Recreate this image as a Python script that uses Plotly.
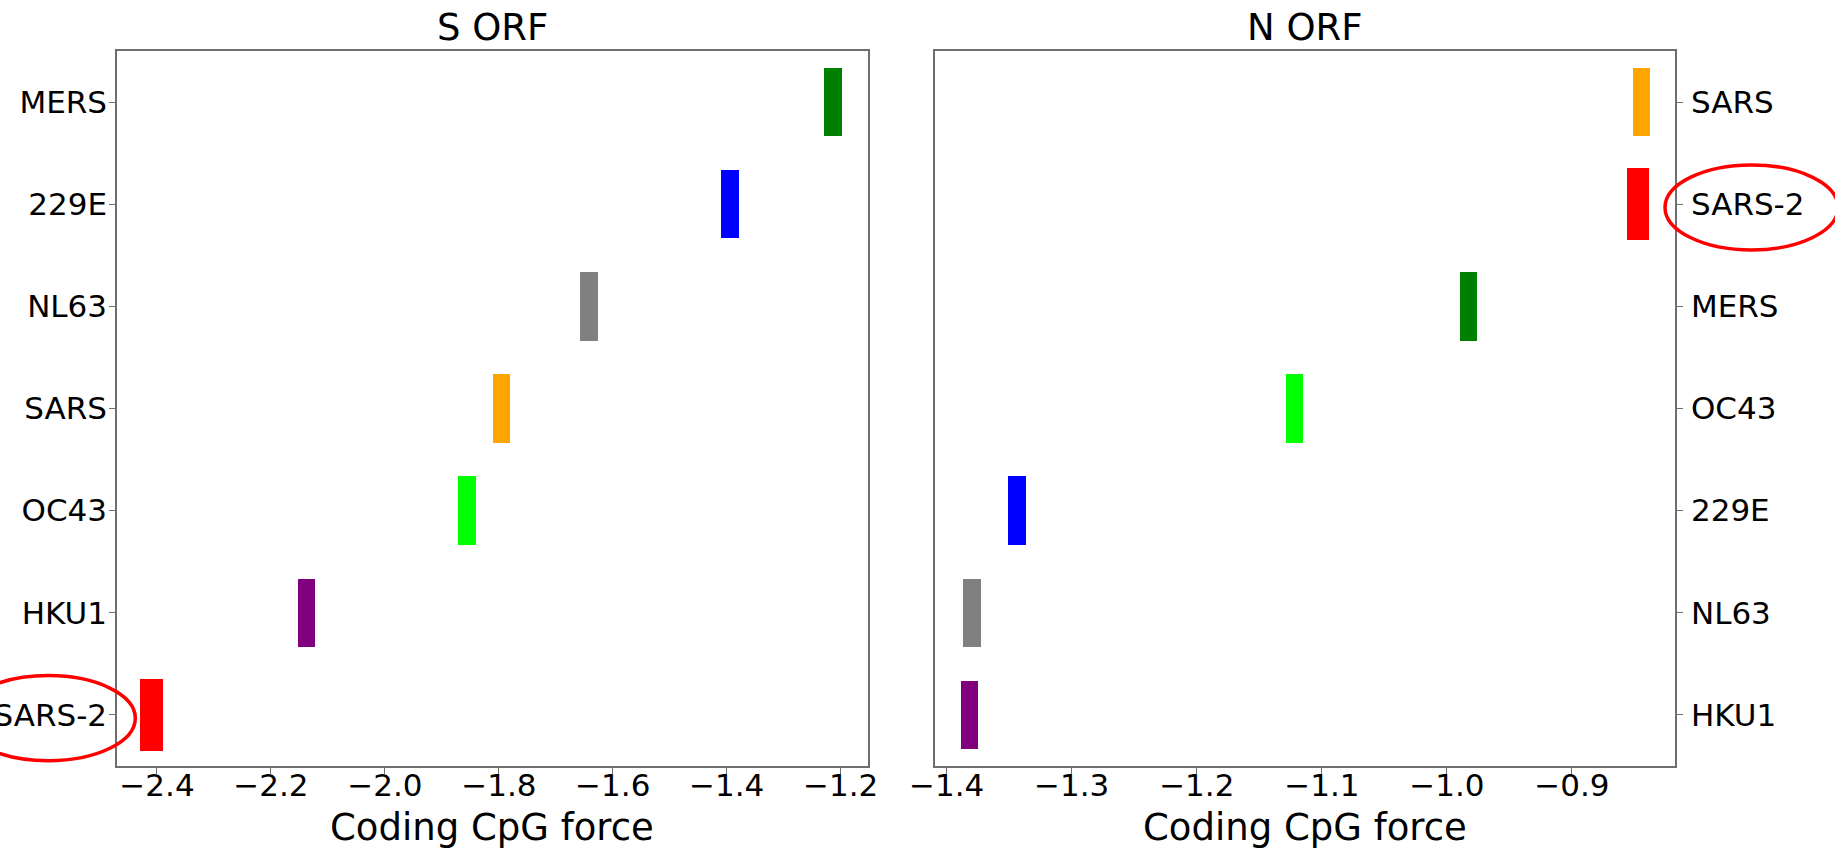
import plotly.graph_objects as go
from plotly.subplots import make_subplots

# ---- data ----
s_viruses = ["MERS", "229E", "NL63", "SARS", "OC43", "HKU1", "SARS-2"]
s_low = [-1.229, -1.410, -1.657, -1.810, -1.871, -2.153, -2.429]
s_high = [-1.197, -1.379, -1.626, -1.780, -1.840, -2.122, -2.390]

n_viruses = ["SARS", "SARS-2", "MERS", "OC43", "229E", "NL63", "HKU1"]
n_low = [-0.8515, -0.856, -0.990, -1.129, -1.351, -1.387, -1.389]
n_high = [-0.8376, -0.839, -0.976, -1.115, -1.337, -1.373, -1.375]

virus_colors = {
    "MERS": "#008000", "229E": "#0000ff", "NL63": "#808080", "SARS": "#ffa500",
    "OC43": "#00ff00", "HKU1": "#800080", "SARS-2": "#ff0000",
}
highlight = "SARS-2"

s_ticks = [-2.4, -2.2, -2.0, -1.8, -1.6, -1.4, -1.2]
n_ticks = [-1.4, -1.3, -1.2, -1.1, -1.0, -0.9]

panel_titles = ["S ORF", "N ORF"]
x_title = "Coding CpG force"

FONT = "DejaVu Sans"
W, H = 1835, 852

fig = make_subplots(rows=1, cols=2)

def add_panel(cats, lo, hi, col):
    widths = [0.71 if c == highlight else 0.67 for c in cats]
    fig.add_trace(go.Bar(
        y=cats, base=lo, x=[h - l for h, l in zip(hi, lo)], orientation="h",
        width=widths,
        marker=dict(color=[virus_colors[c] for c in cats], line=dict(width=0)),
        showlegend=False, hoverinfo="skip",
    ), row=1, col=col)

add_panel(s_viruses, s_low, s_high, 1)
add_panel(n_viruses, n_low, n_high, 2)

axis_common = dict(
    showline=True, linecolor="#6e6e6e", linewidth=1.5, mirror=True,
    ticks="outside", ticklen=6, tickcolor="#6e6e6e", tickwidth=1,
    showgrid=False, zeroline=False, automargin=False,
    tickfont=dict(family=FONT, size=31, color="black"),
)

fig.update_xaxes(axis_common)
fig.update_yaxes(axis_common)

fig.update_xaxes(row=1, col=1, domain=[0, 0.4818], range=[-2.4702, -1.1526],
                 tickvals=s_ticks, ticktext=[f"\u2212{abs(t):.1f}" for t in s_ticks],
                 ticklabelstandoff=-15)
fig.update_xaxes(row=1, col=2, domain=[0.5248, 1], range=[-1.4096, -0.8176],
                 tickvals=n_ticks, ticktext=[f"\u2212{abs(t):.1f}" for t in n_ticks],
                 ticklabelstandoff=-15)
fig.update_yaxes(row=1, col=1, categoryorder="array", categoryarray=s_viruses,
                 range=[6.5, -0.5], ticklabelstandoff=-4)
fig.update_yaxes(row=1, col=2, categoryorder="array", categoryarray=n_viruses,
                 range=[6.5, -0.5], side="right", ticklabelstandoff=2)

# panel titles and x-axis titles
for xref, txt in zip(["x domain", "x2 domain"], panel_titles):
    fig.add_annotation(xref=xref, yref="paper", x=0.5, y=1, yanchor="bottom",
                       yshift=0, showarrow=False, text=txt,
                       font=dict(family=FONT, size=37, color="black"))
    fig.add_annotation(xref=xref, yref="paper", x=0.5, y=0, yanchor="top",
                       yshift=-38, showarrow=False, text=x_title,
                       font=dict(family=FONT, size=37, color="black"))

# red ellipses around the SARS-2 labels
def ellipse(xref, yref, cats, x0, x1):
    i = cats.index(highlight)
    yc = (6.5 - i) / 7.0 - 0.0045
    hh = 0.0595
    fig.add_shape(type="circle", xref=xref, yref=yref, x0=x0, x1=x1,
                  y0=yc - hh, y1=yc + hh, line=dict(color="#ff0000", width=3.5),
                  layer="above")

ellipse("x domain", "y domain", s_viruses, -0.2074, 0.0244)
ellipse("x2 domain", "y2 domain", n_viruses, 0.9865, 1.2202)

fig.update_layout(
    width=W, height=H,
    margin=dict(l=117, r=160, t=51, b=86, pad=0),
    plot_bgcolor="white", paper_bgcolor="white",
    font=dict(family=FONT, color="black"),
    bargap=0,
)

fig.write_html(
    "out.html",
    config={"displayModeBar": False},
    post_script="document.body.style.margin='0px';document.body.style.overflow='hidden';",
)
